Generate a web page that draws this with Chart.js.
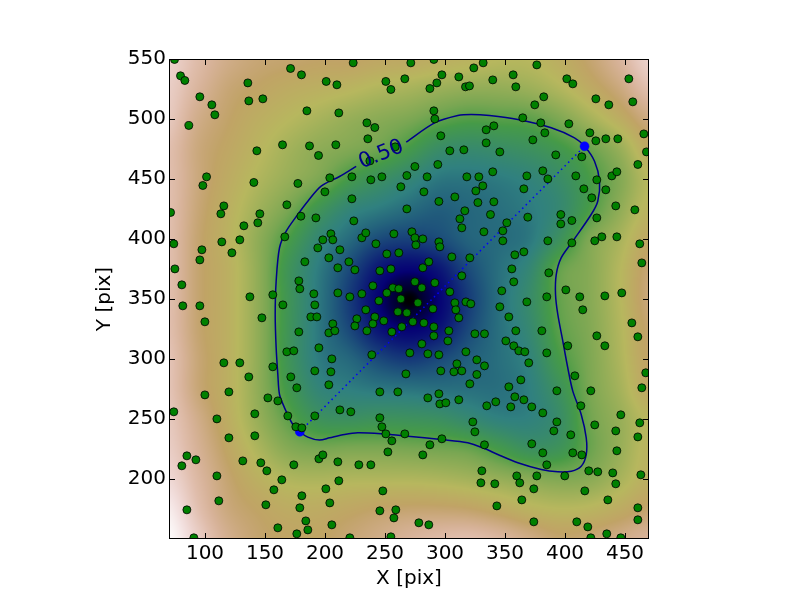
<!DOCTYPE html>
<html><head><meta charset="utf-8">
<script src="https://cdn.jsdelivr.net/npm/chart.js@4.4.0/dist/chart.umd.min.js"></script>
<style>html,body{margin:0;padding:0;background:#fff;}canvas{display:block;}</style>
</head><body>
<canvas id="c" width="800" height="600"></canvas>
<script>
// ---------- data ----------
const xTicks = [100,150,200,250,300,350,400,450];
const yTicks = [200,250,300,350,400,450,500,550];
const xRange = [70,470];
const yRange = [150,550];

// background map sampled on a 25-pixel grid (rows from Y=550 down to Y=150, columns X=70..470)
const gridX = [70,95,120,145,170,195,220,245,270,295,320,345,370,395,420,445,470];
const gridY = [550,525,500,475,450,425,400,375,350,325,300,275,250,225,200,175,150];
const gridValues = [
 [.94,.89,.84,.81,.80,.79,.79,.77,.76,.74,.72,.70,.70,.74,.80,.87,.94],
 [.93,.87,.81,.78,.75,.73,.71,.68,.66,.63,.61,.61,.63,.68,.75,.82,.90],
 [.92,.84,.79,.74,.70,.66,.62,.59,.56,.51,.48,.49,.50,.56,.65,.74,.83],
 [.90,.82,.77,.71,.65,.60,.57,.53,.455,.365,.345,.363,.39,.44,.52,.62,.76],
 [.90,.82,.75,.68,.62,.56,.455,.385,.32,.26,.255,.27,.30,.36,.46,.57,.70],
 [.90,.81,.73,.64,.55,.42,.315,.27,.23,.20,.22,.24,.27,.33,.465,.60,.72],
 [.90,.80,.72,.60,.465,.32,.23,.16,.14,.16,.21,.23,.26,.39,.56,.66,.77],
 [.90,.80,.73,.60,.41,.27,.16,.064,.035,.064,.16,.24,.32,.51,.58,.69,.81],
 [.90,.80,.73,.60,.415,.26,.132,.032,.0,.032,.132,.24,.35,.51,.58,.69,.82],
 [.90,.80,.73,.60,.41,.26,.155,.06,.03,.06,.155,.24,.33,.495,.57,.68,.80],
 [.91,.81,.73,.60,.41,.27,.22,.155,.125,.155,.20,.24,.30,.455,.56,.67,.79],
 [.91,.81,.73,.60,.44,.31,.28,.26,.25,.24,.24,.24,.28,.395,.55,.65,.77],
 [.92,.84,.74,.62,.50,.40,.385,.40,.395,.38,.335,.29,.29,.36,.53,.62,.71],
 [.93,.86,.77,.67,.58,.55,.56,.56,.55,.54,.52,.455,.39,.41,.52,.62,.72],
 [.95,.88,.80,.73,.68,.67,.68,.68,.68,.67,.65,.62,.59,.57,.59,.66,.74],
 [.98,.90,.82,.78,.75,.75,.77,.79,.80,.80,.79,.76,.72,.70,.71,.75,.80],
 [1.0,.93,.85,.80,.78,.78,.81,.84,.87,.89,.90,.88,.84,.80,.81,.84,.87]
];

// scattered sources [X, Y]
const scatterPoints = [
 [74.6,549.6],[79.6,536.0],[83.2,532.1],[135.7,530.1],[171.3,542.1],[180.4,536.8],[95.7,518.5],[105.7,511.8],[108.2,503.5],[136.5,515.1],[148.2,516.8],[184.9,506.8],[86.5,494.6],[143.2,473.5],[164.6,478.5],[187.1,477.6],[194.6,469.6],[101.3,451.8],[98.2,444.6],[140.7,447.1],[177.4,446.3],[199.9,439.3],[115.7,427.6],[113.2,421.0],[168.2,428.5],[71.3,422.1],[145.7,421.0],
 [223.5,546.8],[271.5,546.8],[290.7,549.6],[324.0,542.6],[331.8,546.8],[201.0,531.3],[209.9,528.5],[250.7,531.3],[254.9,524.6],[266.5,533.5],[287.4,525.4],[293.2,530.1],[297.4,536.8],[311.5,535.1],[317.1,526.8],[320.4,527.6],[211.5,505.1],[290.7,506.8],[291.5,500.1],[234.9,496.8],[241.5,492.9],[235.7,483.5],[209.0,478.5],[258.5,476.8],[296.5,486.0],[304.0,473.5],[315.7,474.3],[237.4,465.1],[274.9,460.4],[294.0,462.1],[204.0,451.0],[222.4,451.8],[238.2,449.3],[247.4,451.8],[268.2,452.9],[285.1,451.8],[318.2,451.8],[328.2,451.8],[263.2,443.5],[282.4,439.3],[325.7,440.1],[331.5,444.3],[222.4,433.5],[308.2,435.1],[294.9,431.3],[327.4,430.4],[268.2,425.1],[316.5,423.5],
 [376.5,545.1],[339.8,532.6],[356.8,536.8],[359.0,526.8],[401.5,533.5],[406.5,529.3],[453.2,533.5],[382.3,518.5],[374.8,511.8],[425.7,516.8],[436.5,511.8],[456.5,514.3],[364.8,501.0],[334.3,491.0],[340.7,494.3],[379.8,496.8],[383.2,488.5],[403.2,496.0],[373.2,482.6],[334.3,480.1],[420.7,488.5],[425.7,481.8],[434.0,483.5],[444.0,483.5],[465.7,487.6],[345.7,472.6],[392.3,470.1],[414.0,468.5],[467.9,472.6],[460.7,462.1],[339.8,456.0],[368.2,452.6],[381.5,456.8],[385.7,450.1],[409.0,452.6],[426.5,449.3],[439.0,452.6],[443.2,456.0],[365.7,441.8],[415.7,441.8],[434.0,441.0],[422.3,434.3],[340.7,431.0],[442.3,427.6],[458.2,424.3],
 [179.9,419.0],[192.4,417.6],[132.4,411.0],[144.0,413.5],[74.0,396.0],[97.4,391.0],[114.0,397.6],[129.0,399.3],[122.4,388.5],[95.7,382.6],[166.5,401.8],[198.2,399.3],[194.0,392.6],[183.2,381.0],[74.9,375.1],[178.2,365.1],[179.0,358.5],[80.7,361.8],[137.4,351.8],[156.5,353.5],[164.9,345.1],[190.7,354.3],[191.5,345.1],[81.5,344.3],[95.7,344.3],[99.9,331.0],[147.4,334.3],[188.2,335.1],[193.2,335.1],[178.2,322.6],[168.2,306.0],[174.0,306.8],[194.9,309.3],[115.7,296.8],[129.0,296.8],[156.5,293.5],[191.5,290.1],
 [224.0,415.1],[312.4,416.8],[314.0,409.3],[332.4,406.0],[204.9,404.3],[206.5,399.3],[230.7,401.0],[234.0,405.1],[257.4,404.3],[272.4,406.0],[274.9,401.0],[281.5,400.1],[275.7,395.1],[294.9,397.6],[295.7,393.5],[242.4,396.0],[212.4,391.0],[203.2,384.3],[251.5,387.6],[261.5,388.5],[305.7,385.1],[320.7,384.3],[219.9,381.0],[210.7,376.0],[224.9,374.3],[245.7,373.5],[254.9,375.1],[281.5,376.0],[286.5,381.0],[314.0,369.3],[239.9,361.0],[256.5,359.3],[261.5,358.5],[251.5,355.1],[274.9,364.3],[280.7,359.3],[291.5,363.5],[210.7,355.1],[220.7,351.8],[230.7,354.3],[304.0,356.0],[244.9,348.5],[263.2,350.1],[277.4,346.8],[308.2,346.8],[317.4,347.6],[321.5,346.0],[234.0,341.0],[260.7,339.3],[268.2,338.5],[289.9,341.8],[309.0,341.0],[311.5,334.3],[241.5,335.1],[226.5,333.5],[249.0,331.8],[206.5,329.3],[203.2,321.8],[208.2,323.5],[224.9,327.6],[239.9,329.3],[273.2,331.0],[282.4,330.1],[264.0,326.8],[290.7,326.8],[234.9,323.5],[255.7,322.6],[303.2,323.5],[290.7,319.3],[302.4,315.1],[324.9,321.0],[280.7,312.6],[239.0,303.5],[270.7,305.1],[285.7,304.3],[294.9,303.5],[317.4,306.0],[205.7,300.1],[326.5,299.3],[309.9,296.0],[204.9,289.3],[267.4,287.6],[296.5,290.1],[307.4,289.3],[314.0,290.1],
 [337.9,420.4],[369.0,418.2],[396.5,420.4],[396.5,412.6],[405.7,415.4],[426.5,417.6],[351.5,413.5],[348.2,406.8],[348.2,398.5],[385.7,398.5],[405.7,396.8],[424.8,398.5],[430.7,401.8],[443.2,401.8],[462.3,396.0],[358.2,386.8],[365.7,389.3],[464.0,380.1],[355.7,375.1],[386.5,371.8],[357.3,364.3],[347.3,356.8],[400.7,357.6],[384.8,351.8],[412.3,351.8],[433.2,352.6],[447.3,355.1],[368.2,347.6],[345.7,343.5],[353.2,335.1],[414.8,341.0],[455.7,330.1],[332.9,321.0],[359.0,323.5],[380.7,323.5],[460.7,318.5],[350.7,315.1],[357.3,311.0],[361.5,306.8],[366.5,306.0],[384.8,305.1],[402.3,311.0],[426.5,319.3],[433.2,311.0],[369.8,296.8],[332.9,294.3],[467.3,288.5],
 [136.5,285.1],[171.5,285.1],[176.5,276.0],[99.9,270.1],[119.9,272.6],[152.4,267.6],[160.7,265.1],[74.0,256.0],[141.5,254.3],[169.0,252.6],[109.9,250.1],[191.5,252.6],[175.7,243.5],[180.7,242.6],[119.9,234.3],[141.5,236.0],[84.9,219.3],[80.7,211.0],[92.4,216.0],[109.9,202.6],[131.5,215.1],[146.5,213.5],[151.5,206.8],[174.0,211.8],[194.9,216.8],[198.2,220.1],[164.0,199.3],[157.4,191.0],[111.5,181.8],[180.7,186.0],[84.9,174.3],[150.7,178.5],[179.0,176.0],[184.0,165.1],[160.7,159.3],[185.7,157.6],[176.5,154.3],[90.7,151.0],
 [326.5,287.1],[203.2,278.5],[245.7,272.6],[260.7,272.6],[285.7,267.6],[294.9,271.0],[295.7,262.6],[300.7,263.5],[311.5,266.0],[320.7,279.3],[212.4,257.6],[221.5,256.0],[245.7,251.0],[247.4,243.5],[250.7,237.6],[255.7,231.8],[266.5,237.6],[323.2,247.6],[324.9,239.3],[297.4,233.5],[287.4,228.5],[252.4,222.6],[281.5,220.1],[210.7,214.3],[228.2,211.8],[238.2,211.8],[211.5,198.5],[330.7,206.8],[329.9,196.8],[200.7,191.8],[248.2,190.1],[204.0,180.1],[245.7,173.5],[259.0,174.3],[257.4,167.6],[205.7,161.8],[278.2,163.5],[286.5,161.8],[220.7,151.0],[254.9,151.8],
 [408.2,286.0],[363.2,282.6],[353.2,276.8],[358.2,268.5],[365.7,266.0],[342.3,264.3],[354.8,260.1],[334.8,261.0],[372.3,260.1],[393.2,273.5],[421.5,273.5],[464.0,276.0],[381.5,255.1],[413.2,261.0],[446.5,253.5],[393.2,247.6],[390.7,240.1],[404.8,236.8],[424.8,245.1],[442.3,240.1],[462.3,246.8],[460.7,235.1],[332.9,228.5],[372.3,229.3],[381.5,221.8],[406.5,221.8],[414.0,220.1],[443.2,223.5],[384.8,211.8],[419.8,206.8],[427.3,206.0],[439.8,205.1],[359.8,202.6],[376.5,202.6],[399.8,202.6],[463.2,203.5],[341.5,196.0],[362.3,196.8],[442.3,196.0],[374.0,191.8],[416.5,190.1],[364.0,182.6],[435.7,182.6],[343.2,177.6],[460.7,176.0],[374.0,164.3],[409.8,164.3],[419.0,160.1],[460.7,166.0],[434.8,154.3],[421.5,151.0],[446.5,151.0]
];

// the 0.50 level line, open where its label sits
const contourPoints = [
 [267.7,480.8],[291.3,496.8],[310.7,502.9],[321.8,503.8],[337.1,502.9],[360.7,499.6],[388.5,492.7],[407.9,484.3],[416.3,477.3],[424.6,464.8],[428.8,448.2],[427.3,431.5],[421.8,420.4],[406.5,398.2],[396.8,384.3],[392.7,370.4],[392.1,353.8],[394.0,337.1],[398.2,314.8],[402.3,292.7],[406.5,273.2],[413.5,253.8],[417.7,234.3],[417.7,220.4],[413.5,210.7],[405.2,206.5],[394.0,206.0],[380.2,207.9],[360.7,213.5],[344.0,220.4],[332.9,225.4],[319.0,230.2],[296.8,232.9],[269.0,235.7],[246.8,237.7],[227.3,238.5],[216.3,237.1],[203.8,234.3],[195.4,232.4],[185.7,234.9],[179.0,239.4],[173.2,245.4],[166.3,259.3],[162.1,270.4],[160.7,287.0],[159.3,309.3],[158.5,337.1],[159.3,364.8],[162.1,392.7],[167.7,406.5],[177.3,420.4],[185.7,431.5],[196.8,444.0],[212.1,452.1],[226.0,460.6]
];
const contourLabel = {text: '0.50', x: 246.9, y: 470.3, angle: -22};

// dotted segment and its two end points
const segmentX = [179.0, 416.3];
const segmentY = [239.4, 477.3];

// ---------- gist_earth colour map ----------
const GE = {
 r: [[0,0],[0.2824,0.1882],[0.4588,0.2714],[0.5490,0.4719],[0.6980,0.7176],[0.7882,0.7553],[1,0.9922]],
 g: [[0,0],[0.0275,0],[0.1098,0.1893],[0.1647,0.3035],[0.2078,0.3841],[0.2824,0.5020],[0.5216,0.6397],[0.6980,0.7171],[0.7882,0.6392],[0.7922,0.6413],[0.8,0.6447],[0.8078,0.6481],[0.8157,0.6549],[0.8667,0.6991],[0.8745,0.7103],[0.8824,0.7216],[0.8902,0.7323],[0.8980,0.7430],[0.9412,0.8275],[0.9569,0.8635],[0.9647,0.8816],[0.9961,0.9733],[1,0.9843]],
 b: [[0,0],[0.0039,0.1684],[0.0078,0.2212],[0.0275,0.4329],[0.0314,0.4549],[0.2824,0.5004],[0.4667,0.2748],[0.5451,0.3205],[0.7843,0.3961],[0.8941,0.6651],[1,0.9843]]
};
function seg(stops, v) {
  for (let i = 1; i < stops.length; i++) {
    if (v <= stops[i][0]) {
      const [x0, y0] = stops[i-1], [x1, y1] = stops[i];
      return y0 + (y1 - y0) * (v - x0) / (x1 - x0);
    }
  }
  return stops[stops.length-1][1];
}
function cr(p0, p1, p2, p3, t) {
  return p1 + 0.5 * t * (p2 - p0 + t * (2*p0 - 5*p1 + 4*p2 - p3 + t * (3*(p1 - p2) + p3 - p0)));
}
function sampleGrid(gx, gy) {
  const nR = gridValues.length, nC = gridValues[0].length;
  const cl = (v, n) => Math.max(0, Math.min(n - 1, v));
  const ix = Math.min(Math.floor(gx), nC - 1), iy = Math.min(Math.floor(gy), nR - 1);
  const tx = gx - ix, ty = gy - iy;
  const rows = [];
  for (let m = -1; m <= 2; m++) {
    const r = gridValues[cl(iy + m, nR)];
    rows.push(cr(r[cl(ix-1,nC)], r[cl(ix,nC)], r[cl(ix+1,nC)], r[cl(ix+2,nC)], tx));
  }
  return cr(rows[0], rows[1], rows[2], rows[3], ty);
}

const backgroundPlugin = {
  id: 'backgroundMap',
  beforeDatasetsDraw(chart) {
    const {ctx, chartArea: a, scales: {x, y}} = chart;
    const w = Math.round(a.right - a.left), h = Math.round(a.bottom - a.top);
    const off = document.createElement('canvas');
    off.width = w; off.height = h;
    const octx = off.getContext('2d');
    const img = octx.createImageData(w, h);
    const stepX = gridX[1] - gridX[0], stepY = gridY[0] - gridY[1];
    for (let j = 0; j < h; j++) {
      const yv = y.getValueForPixel(a.top + j + 0.5);
      const gy = Math.max(0, Math.min(gridY.length - 1, (gridY[0] - yv) / stepY));
      for (let i = 0; i < w; i++) {
        const xv = x.getValueForPixel(a.left + i + 0.5);
        const gx = Math.max(0, Math.min(gridX.length - 1, (xv - gridX[0]) / stepX));
        let v = sampleGrid(gx, gy);
        v = Math.max(0, Math.min(1, v));
        const k = (j * w + i) * 4;
        img.data[k] = Math.round(seg(GE.r, v) * 255);
        img.data[k+1] = Math.round(seg(GE.g, v) * 255);
        img.data[k+2] = Math.round(seg(GE.b, v) * 255);
        img.data[k+3] = 255;
      }
    }
    octx.putImageData(img, 0, 0);
    ctx.drawImage(off, a.left, a.top);
  },
  afterDatasetsDraw(chart) {
    const {ctx, chartArea: a, scales: {x, y}} = chart;
    // contour label
    ctx.save();
    ctx.translate(x.getPixelForValue(contourLabel.x), y.getPixelForValue(contourLabel.y));
    ctx.rotate(contourLabel.angle * Math.PI / 180);
    ctx.font = '21px "DejaVu Sans"';
    ctx.fillStyle = '#00008b';
    ctx.textAlign = 'center';
    ctx.textBaseline = 'middle';
    ctx.fillText(contourLabel.text, 0, 0);
    ctx.restore();
    // frame and inward ticks on all four sides
    ctx.save();
    ctx.strokeStyle = '#000';
    ctx.lineWidth = 1;
    ctx.beginPath();
    const T = 6;
    xTicks.forEach(v => {
      const px = Math.round(x.getPixelForValue(v)) + 0.5;
      ctx.moveTo(px, a.bottom); ctx.lineTo(px, a.bottom - T);
      ctx.moveTo(px, a.top); ctx.lineTo(px, a.top + T);
    });
    yTicks.forEach(v => {
      const py = Math.round(y.getPixelForValue(v)) + 0.5;
      ctx.moveTo(a.left, py); ctx.lineTo(a.left + T, py);
      ctx.moveTo(a.right, py); ctx.lineTo(a.right - T, py);
    });
    ctx.stroke();
    ctx.strokeRect(a.left + 0.5, a.top + 0.5, a.right - a.left - 1, a.bottom - a.top - 1);
    ctx.restore();
  }
};

const font20 = {family: '"DejaVu Sans"', size: 20};
new Chart(document.getElementById('c'), {
  type: 'scatter',
  data: {
    datasets: [
      { label: 'sources', data: scatterPoints.map(([px, py]) => ({x: px, y: py})),
        pointRadius: 4, pointBackgroundColor: '#008000', pointBorderColor: '#000000', pointBorderWidth: 0.8,
        showLine: false, clip: 0, order: 0 },
      { label: 'ends', data: segmentX.map((v, i) => ({x: v, y: segmentY[i]})),
        pointRadius: 4.5, pointBackgroundColor: '#0000ff', pointBorderColor: '#0000ff', pointBorderWidth: 0.5,
        showLine: false, clip: 0, order: 1 },
      { label: 'segment', data: segmentX.map((v, i) => ({x: v, y: segmentY[i]})),
        showLine: true, borderColor: '#0000ff', borderWidth: 1.5, borderDash: [1.5, 3.5],
        pointRadius: 0, clip: 0, order: 2 },
      { label: 'contour', data: contourPoints.map(([px, py]) => ({x: px, y: py})),
        showLine: true, borderColor: '#00008b', borderWidth: 1.5, tension: 0.3,
        pointRadius: 0, clip: 0, order: 3 }
    ]
  },
  options: {
    responsive: false,
    animation: false,
    layout: {padding: {top: 59, right: 151, bottom: 0, left: 0}},
    plugins: {legend: {display: false}, tooltip: {enabled: false}},
    scales: {
      x: {
        type: 'linear', min: xRange[0], max: xRange[1],
        afterBuildTicks: s => { s.ticks = xTicks.map(v => ({value: v})); },
        afterFit: s => { s.height = 61; },
        grid: {display: false, drawTicks: false},
        border: {display: false},
        ticks: {font: font20, color: '#000', padding: 3, maxRotation: 0, autoSkip: false},
        title: {display: true, text: 'X [pix]', font: font20, color: '#000', padding: {top: 0, bottom: 9}}
      },
      y: {
        type: 'linear', min: yRange[0], max: yRange[1],
        afterBuildTicks: s => { s.ticks = yTicks.map(v => ({value: v})); },
        afterFit: s => { s.width = 169; },
        grid: {display: false, drawTicks: false},
        border: {display: false},
        ticks: {font: font20, color: '#000', padding: 3, autoSkip: false},
        title: {display: true, text: 'Y [pix]', font: font20, color: '#000', padding: {top: 93, bottom: 0}}
      }
    }
  },
  plugins: [backgroundPlugin]
});
</script>
</body></html>
